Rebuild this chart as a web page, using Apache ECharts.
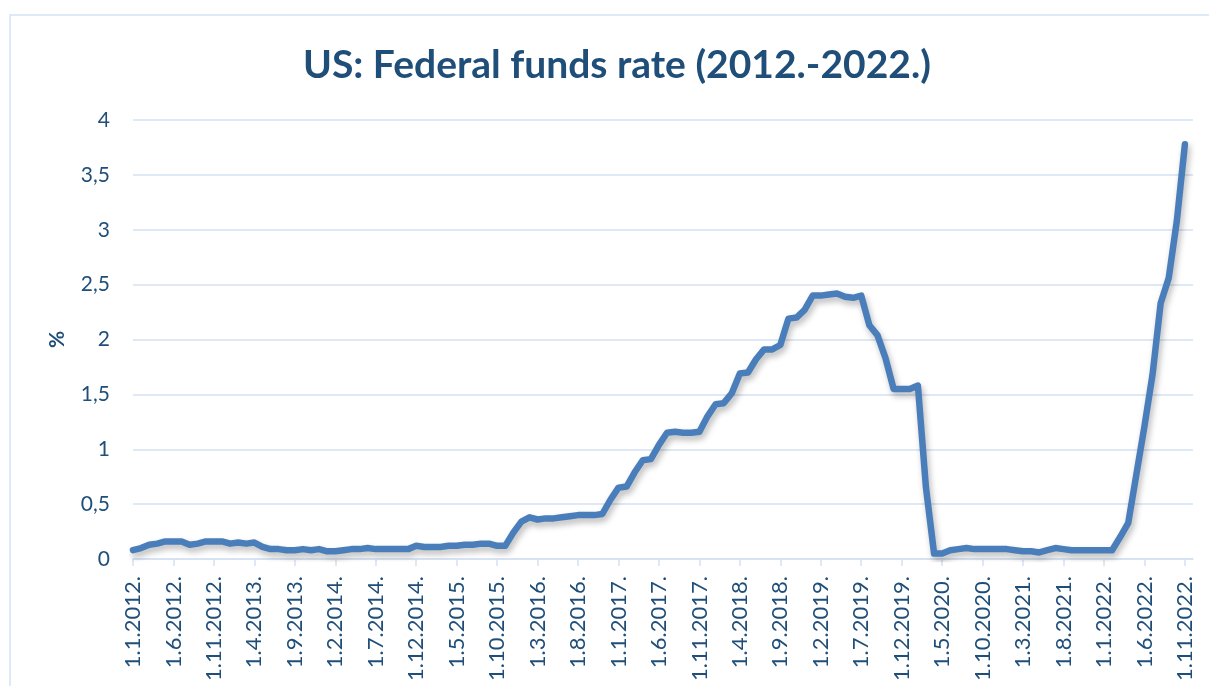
<!DOCTYPE html>
<html>
<head>
<meta charset="utf-8">
<script src="https://cdn.jsdelivr.net/npm/echarts@6/dist/echarts.min.js"></script>
<style>
html,body{margin:0;padding:0;background:#fff;}
#chart{width:1209px;height:686px;}
</style>
</head>
<body>
<div id="chart"></div>
<script>
// Monthly categories: 1.1.2012. ... 1.12.2022.
var startYear = 2012, endYear = 2022;
var categories = [];
for (var y = startYear; y <= endYear; y++) {
  for (var m = 1; m <= 12; m++) categories.push('1.' + m + '.' + y + '.');
}
// Effective federal funds rate (%), monthly
var rates2012 = [0.08, 0.10, 0.13, 0.14, 0.16, 0.16, 0.16, 0.13, 0.14, 0.16, 0.16, 0.16];
var rates2013 = [0.14, 0.15, 0.14, 0.15, 0.11, 0.09, 0.09, 0.08, 0.08, 0.09, 0.08, 0.09];
var rates2014 = [0.07, 0.07, 0.08, 0.09, 0.09, 0.10, 0.09, 0.09, 0.09, 0.09, 0.09, 0.12];
var rates2015 = [0.11, 0.11, 0.11, 0.12, 0.12, 0.13, 0.13, 0.14, 0.14, 0.12, 0.12, 0.24];
var rates2016 = [0.34, 0.38, 0.36, 0.37, 0.37, 0.38, 0.39, 0.40, 0.40, 0.40, 0.41, 0.54];
var rates2017 = [0.65, 0.66, 0.79, 0.90, 0.91, 1.04, 1.15, 1.16, 1.15, 1.15, 1.16, 1.30];
var rates2018 = [1.41, 1.42, 1.51, 1.69, 1.70, 1.82, 1.91, 1.91, 1.95, 2.19, 2.20, 2.27];
var rates2019 = [2.40, 2.40, 2.41, 2.42, 2.39, 2.38, 2.40, 2.13, 2.04, 1.83, 1.55, 1.55];
var rates2020 = [1.55, 1.58, 0.65, 0.05, 0.05, 0.08, 0.09, 0.10, 0.09, 0.09, 0.09, 0.09];
var rates2021 = [0.09, 0.08, 0.07, 0.07, 0.06, 0.08, 0.10, 0.09, 0.08, 0.08, 0.08, 0.08];
var rates2022 = [0.08, 0.08, 0.20, 0.33, 0.77, 1.21, 1.68, 2.33, 2.56, 3.08, 3.78, null];
var rates = [].concat(rates2012, rates2013, rates2014, rates2015, rates2016, rates2017,
                      rates2018, rates2019, rates2020, rates2021, rates2022);
var yTicks = [0, 0.5, 1, 1.5, 2, 2.5, 3, 3.5, 4];

var textColor = '#1F4E79';
var gridColor = '#D5E1F2';
var fontFam = 'Lato, "Open Sans", sans-serif';

var chart = echarts.init(document.getElementById('chart'));
chart.setOption({
  backgroundColor: '#ffffff',
  animation: false,
  title: {
    text: 'US: Federal funds rate (2012.-2022.)',
    left: 303,
    top: 46,
    padding: 0,
    textStyle: {color: textColor, fontFamily: fontFam, fontWeight: 'bold', fontSize: 39}
  },
  graphic: [{
    type: 'rect',
    shape: {x: 10, y: 15, width: 1260, height: 720},
    style: {fill: 'none', stroke: '#D6E3F4', lineWidth: 1.5},
    silent: true
  }],
  grid: {left: 133, right: 16, top: 120, bottom: 127},
  xAxis: {
    type: 'category',
    data: categories,
    boundaryGap: false,
    axisLine: {lineStyle: {color: gridColor, width: 1.5}},
    axisTick: {show: true, interval: 4, length: 7, lineStyle: {color: gridColor, width: 1.5}},
    axisLabel: {interval: 4, rotate: 90, margin: 17, color: textColor, fontFamily: fontFam, fontSize: 22},
    splitLine: {show: false}
  },
  yAxis: {
    type: 'value',
    min: 0, max: 4, interval: 0.5,
    name: '%',
    nameLocation: 'middle',
    nameGap: 65,
    nameRotate: 90,
    nameTextStyle: {color: textColor, fontFamily: fontFam, fontWeight: 'bold', fontSize: 21},
    axisLine: {show: false},
    axisTick: {show: false},
    axisLabel: {
      margin: 23, color: textColor, fontFamily: fontFam, fontSize: 21,
      formatter: function (v) { return yTicks.indexOf(v) >= 0 ? String(v).replace('.', ',') : ''; }
    },
    splitLine: {lineStyle: {color: gridColor, width: 1.5}}
  },
  series: [{
    type: 'line',
    data: rates,
    showSymbol: false,
    symbol: 'none',
    connectNulls: false,
    lineStyle: {
      color: '#4A7EBB', width: 6.5, cap: 'round', join: 'round',
      shadowColor: 'rgba(0,0,0,0.28)', shadowBlur: 6, shadowOffsetX: 2, shadowOffsetY: 4
    }
  }]
});
</script>
</body>
</html>
